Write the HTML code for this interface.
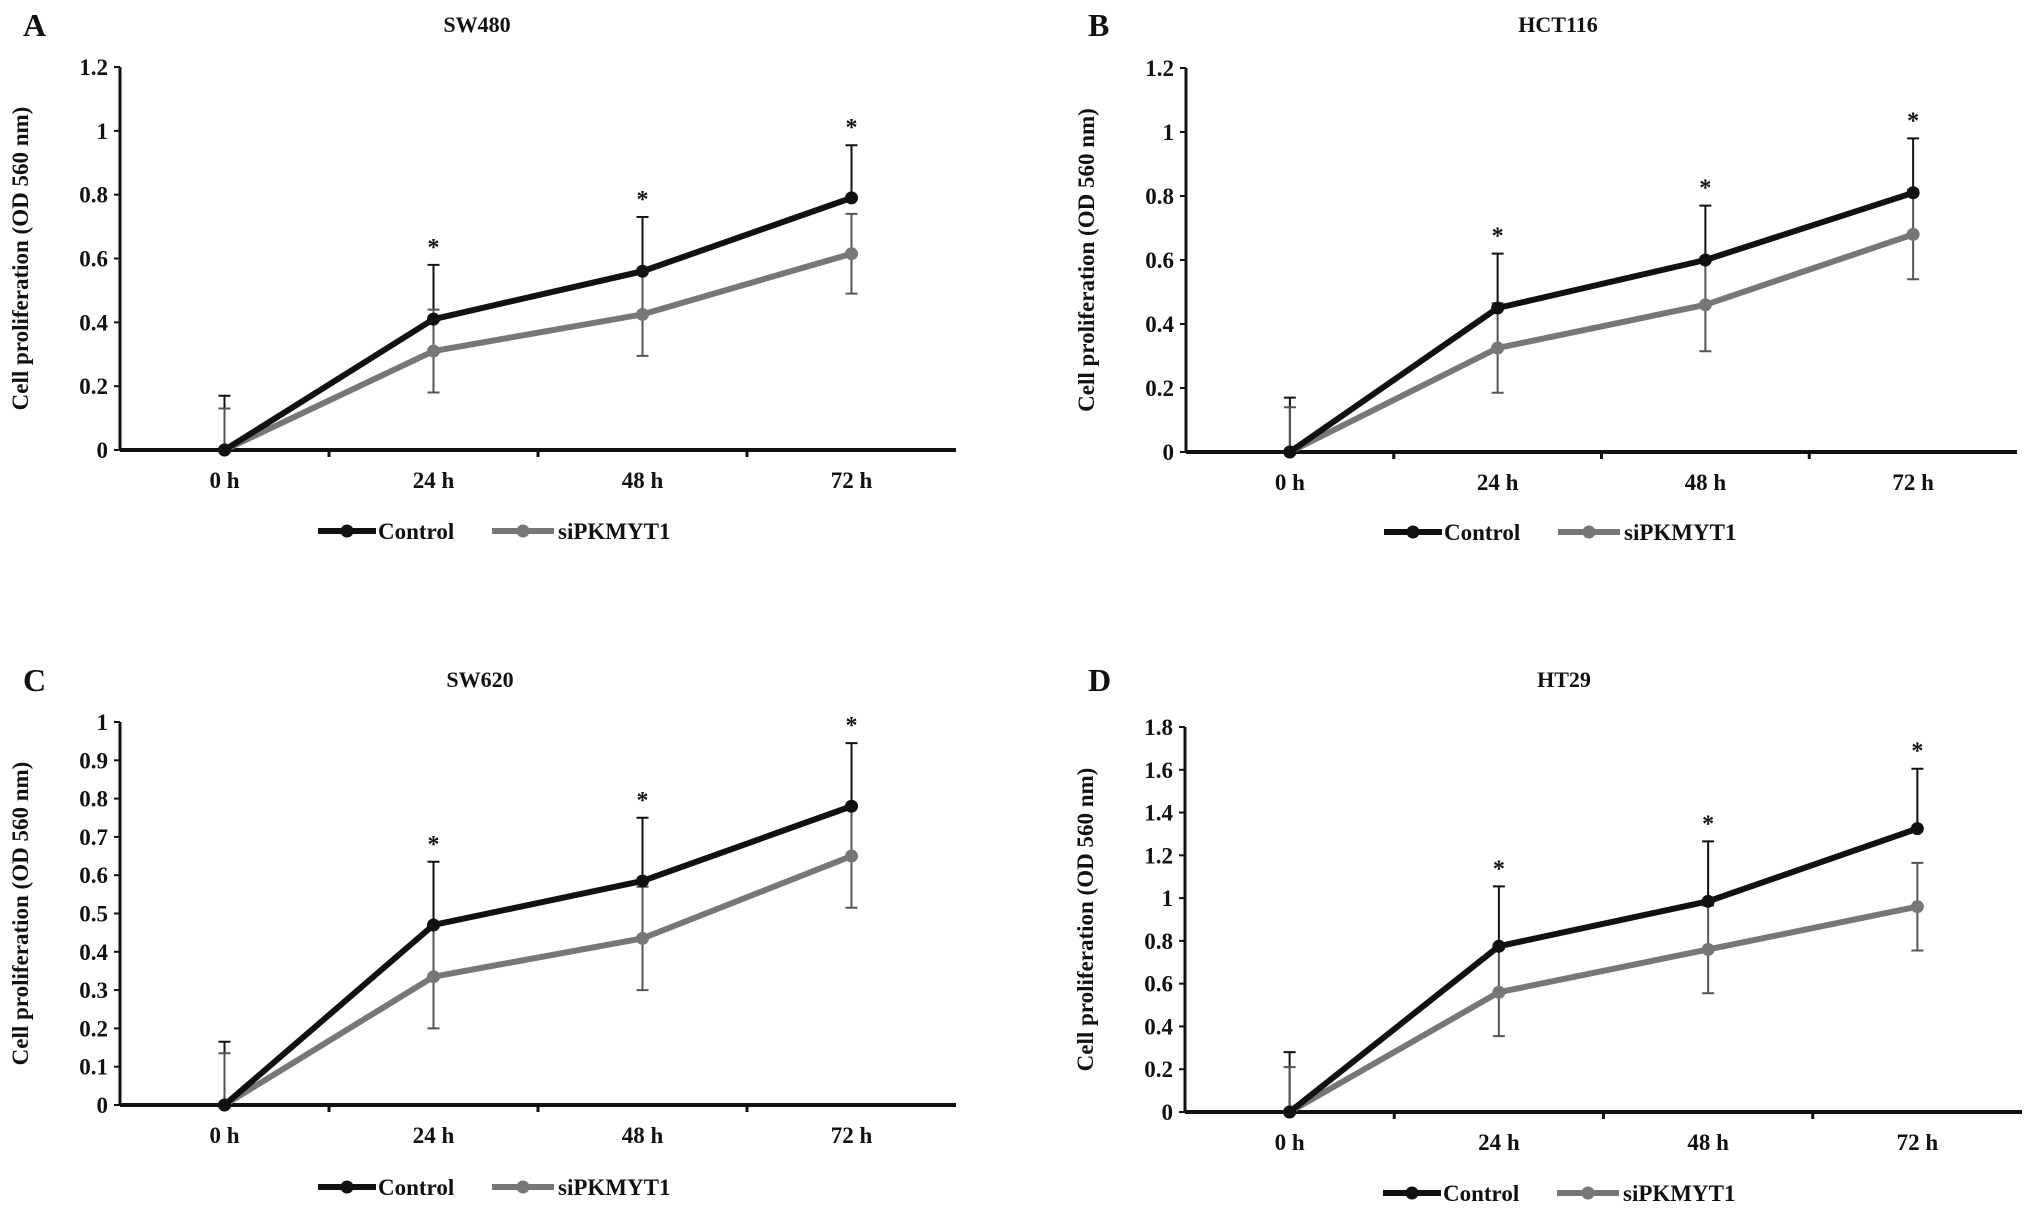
<!DOCTYPE html>
<html><head><meta charset="utf-8">
<style>
html,body{margin:0;padding:0;background:#fff;}
svg{display:block;}
text{font-family:"Liberation Serif",serif;font-weight:bold;fill:#111;}
</style></head>
<body>
<svg id="fig" width="2031" height="1215" viewBox="0 0 2031 1215" xmlns="http://www.w3.org/2000/svg"></svg>
<script>
const categories = ["0 h","24 h","48 h","72 h"];
const ctrlA = [0,0.41,0.56,0.79];   const ctrlErrA = [0.17,0.17,0.17,0.165];
const siA   = [0,0.31,0.425,0.615]; const siErrA   = [0.13,0.13,0.13,0.125];
const ctrlB = [0,0.45,0.60,0.81];   const ctrlErrB = [0.17,0.17,0.17,0.17];
const siB   = [0,0.325,0.46,0.68];  const siErrB   = [0.14,0.14,0.145,0.14];
const ctrlC = [0,0.47,0.585,0.78];  const ctrlErrC = [0.165,0.165,0.165,0.165];
const siC   = [0,0.335,0.435,0.65]; const siErrC   = [0.135,0.135,0.135,0.135];
const ctrlD = [0,0.775,0.985,1.325];const ctrlErrD = [0.28,0.28,0.28,0.28];
const siD   = [0,0.56,0.76,0.96];   const siErrD   = [0.21,0.205,0.205,0.205];
const ticksAB = ["0","0.2","0.4","0.6","0.8","1","1.2"];
const ticksC = ["0","0.1","0.2","0.3","0.4","0.5","0.6","0.7","0.8","0.9","1"];
const ticksD = ["0","0.2","0.4","0.6","0.8","1","1.2","1.4","1.6","1.8"];

const NS="http://www.w3.org/2000/svg";
const svg=document.getElementById('fig');
function mk(tag,attrs,parent,txt){const e=document.createElementNS(NS,tag);for(const k in attrs)e.setAttribute(k,attrs[k]);if(txt!==undefined)e.textContent=txt;(parent||svg).appendChild(e);return e;}

const panels=[
 {id:"a",letter:"A",title:"SW480",x0:120,x1:956,y0:450,yTop:67,ticks:ticksAB,ctrl:ctrlA,ce:ctrlErrA,si:siA,se:siErrA,lx:23,ly:23,tx:477,legY:531},
 {id:"b",letter:"B",title:"HCT116",x0:1186,x1:2017,y0:452,yTop:68,ticks:ticksAB,ctrl:ctrlB,ce:ctrlErrB,si:siB,se:siErrB,lx:1088,ly:23,tx:1558,legY:532},
 {id:"c",letter:"C",title:"SW620",x0:120,x1:956,y0:1105,yTop:722,ticks:ticksC,ctrl:ctrlC,ce:ctrlErrC,si:siC,se:siErrC,lx:23,ly:678,tx:480,legY:1187},
 {id:"d",letter:"D",title:"HT29",x0:1185,x1:2022,y0:1112,yTop:727,ticks:ticksD,ctrl:ctrlD,ce:ctrlErrD,si:siD,se:siErrD,lx:1088,ly:678,tx:1564,legY:1193}
];

panels.forEach(p=>{
 const g=mk('g',{});
 
 
 const ymax=parseFloat(p.ticks[p.ticks.length-1]);
 const Y=v=>p.y0-(v/ymax)*(p.y0-p.yTop);
 const bw=(p.x1-p.x0)/categories.length;
 const X=i=>p.x0+bw*(i+0.5);
 const L=mk('text',{x:p.lx,y:p.ly+13,'font-size':32},g,p.letter);
 
 
 const T=mk('text',{x:p.tx,y:p.ly+9,'font-size':22,'text-anchor':'middle'},g,p.title);
 
 
 const yl=mk('text',{x:0,y:0,'font-size':23,'text-anchor':'middle',transform:`translate(${p.x0-92},${(p.y0+p.yTop)/2}) rotate(-90)`},g,'Cell proliferation (OD 560 nm)');
 
 
 const ya=mk('line',{x1:p.x0,y1:p.yTop,x2:p.x0,y2:p.y0,stroke:'#111','stroke-width':3},g);
 
 
 p.ticks.forEach(t=>{
  const v=parseFloat(t);
  mk('line',{x1:p.x0-6,y1:Y(v),x2:p.x0,y2:Y(v),stroke:'#111','stroke-width':2},g);
  const tl=mk('text',{x:p.x0-12,y:Y(v)+8,'font-size':23,'text-anchor':'end'},g,t);
  
  
 });
 const xa=mk('line',{x1:p.x0,y1:p.y0,x2:p.x1,y2:p.y0,stroke:'#111','stroke-width':4},g);
 
 
 categories.forEach((c,i)=>{
  if(i>0) mk('line',{x1:p.x0+bw*i,y1:p.y0,x2:p.x0+bw*i,y2:p.y0+7,stroke:'#111','stroke-width':3},g);
  const cl=mk('text',{x:X(i),y:p.y0+38,'font-size':23,'text-anchor':'middle'},g,c);
  
  
 });
 function err(vals,errs,col,both,name){
  vals.forEach((v,i)=>{
   const x=X(i);
   const top=Y(v+errs[i]), bot=both?Y(Math.max(0,v-errs[i])):Y(v);
   const e=mk('path',{d:`M${x},${bot}L${x},${top}M${x-6},${top}L${x+6},${top}`+(both&&v>0?`M${x-6},${bot}L${x+6},${bot}`:''),stroke:col,'stroke-width':2,fill:'none'},g);
   
   
  });
 }
 err(p.ctrl,p.ce,'#111',false,'error-bar-control');
 err(p.si,p.se,'#555',true,'error-bar-sipkmyt1');
 function series(vals,col,name){
  const pl=mk('polyline',{points:vals.map((v,i)=>X(i)+','+Y(v)).join(' '),stroke:col,'stroke-width':6,fill:'none','stroke-linejoin':'round'},g);
  
  
  vals.forEach((v,i)=>{
   const c=mk('circle',{cx:X(i),cy:Y(v),r:6.5,fill:col},g);
   
   
  });
 }
 series(p.si,'#777','sipkmyt1');
 series(p.ctrl,'#111','control');
 p.ctrl.forEach((v,i)=>{
  if(i===0)return;
  const s=mk('text',{x:X(i),y:Y(v+p.ce[i])-10,'font-size':24,'text-anchor':'middle'},g,'*');
  
  
 });
 const lx=p.x0+198, ly=p.legY;
 const lg=mk('g',{},g);
 
 
 mk('line',{x1:lx,y1:ly,x2:lx+58,y2:ly,stroke:'#111','stroke-width':6},lg);
 mk('circle',{cx:lx+29,cy:ly,r:6.5,fill:'#111'},lg);
 mk('text',{x:lx+60,y:ly+8,'font-size':23},lg,'Control');
 mk('line',{x1:lx+174,y1:ly,x2:lx+236,y2:ly,stroke:'#777','stroke-width':6},lg);
 mk('circle',{cx:lx+205,cy:ly,r:6.5,fill:'#777'},lg);
 mk('text',{x:lx+240,y:ly+8,'font-size':23},lg,'siPKMYT1');
});
</script>
</body></html>
